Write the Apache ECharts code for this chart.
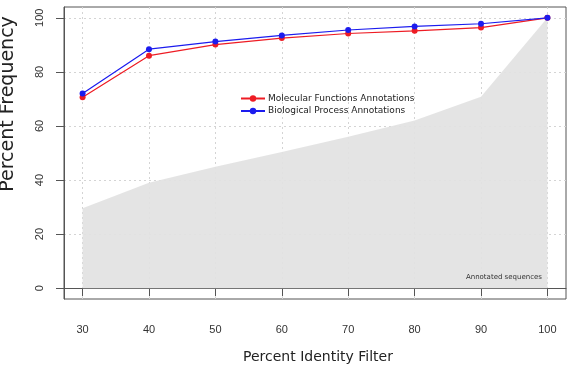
<!DOCTYPE html>
<html>
<head>
<meta charset="utf-8">
<script src="https://cdn.jsdelivr.net/npm/echarts@6/dist/echarts.min.js"></script>
<style>
  html, body { margin: 0; padding: 0; background: #fff; }
  #main { width: 570px; height: 368px; }
</style>
</head>
<body>
<div id="main"></div>
<script>
const identity = [30, 40, 50, 60, 70, 80, 90, 100];
const molecular = [70.6, 86.0, 90.1, 92.5, 94.2, 95.2, 96.4, 100];
const biological = [72.0, 88.4, 91.2, 93.5, 95.5, 96.8, 97.8, 100];
const annotated = [29.6, 39.0, 44.9, 50.4, 56.0, 62.0, 70.8, 100];
const xTicks = [30, 40, 50, 60, 70, 80, 90, 100];
const yTicks = [0, 20, 40, 60, 80, 100];

const pairs = vals => identity.map((x, i) => [x, vals[i]]);

let chartDom = document.getElementById('main');
let myChart = echarts.init(chartDom);

const axisColor = '#555';
const gridLine = { show: true, lineStyle: { color: '#d4d4d4', type: [2, 3], width: 1 } };

const option = {
  animation: false,
  grid: {
    left: 64, right: 4, top: 7, bottom: 69,
    show: true, borderColor: axisColor, borderWidth: 1, backgroundColor: 'transparent'
  },
  legend: {
    orient: 'vertical',
    left: 235, top: 89,
    itemWidth: 24, itemHeight: 8, itemGap: 3.5,
    data: ['Molecular Functions Annotations', 'Biological Process Annotations'],
    textStyle: { fontFamily: 'DejaVu Sans', fontSize: 9, color: '#222', padding: [0, 0, 0, -2] }
  },
  xAxis: {
    type: 'value', min: 27.2, max: 102.8,
    axisLine: { show: true, lineStyle: { color: axisColor } },
    axisTick: { show: true, customValues: xTicks, length: 8, lineStyle: { color: axisColor } },
    axisLabel: { customValues: xTicks, margin: 25, fontFamily: 'Liberation Sans', fontSize: 11, color: '#333' },
    splitLine: gridLine
  },
  yAxis: {
    type: 'value', min: -4, max: 104,
    axisLine: { show: true, lineStyle: { color: axisColor } },
    axisTick: { show: true, customValues: yTicks, length: 8, lineStyle: { color: axisColor } },
    axisLabel: { customValues: yTicks, rotate: 90, margin: 19, fontFamily: 'Liberation Sans', fontSize: 11, color: '#333' },
    splitLine: gridLine
  },
  graphic: [
    {
      type: 'text', x: 8, y: 104, rotation: Math.PI / 2, z: 100,
      style: { text: 'Percent Frequency', fontFamily: 'DejaVu Sans', fontSize: 19, fill: '#222', align: 'center', verticalAlign: 'middle' }
    },
    {
      type: 'text', x: 318, y: 357, z: 100,
      style: { text: 'Percent Identity Filter', fontFamily: 'DejaVu Sans', fontSize: 14, fill: '#222', align: 'center', verticalAlign: 'middle' }
    },
    {
      type: 'text', x: 542, y: 277, z: 100,
      style: { text: 'Annotated sequences', fontFamily: 'DejaVu Sans', fontSize: 7, fill: '#333', align: 'right', verticalAlign: 'middle' }
    }
  ],
  series: [
    {
      name: 'Annotated sequences',
      type: 'line',
      data: pairs(annotated),
      symbol: 'none',
      lineStyle: { width: 0 },
      areaStyle: { color: '#e2e2e2', opacity: 0.92, origin: 0 },
      silent: true
    },
    {
      name: 'Molecular Functions Annotations',
      type: 'line',
      data: pairs(molecular),
      symbol: 'circle', symbolSize: 6,
      itemStyle: { color: '#ee1c24' },
      lineStyle: { color: '#ee1c24', width: 1.2 }
    },
    {
      name: 'Biological Process Annotations',
      type: 'line',
      data: pairs(biological),
      symbol: 'circle', symbolSize: 6,
      itemStyle: { color: '#1c1cee' },
      lineStyle: { color: '#1c1cee', width: 1.2 }
    }
  ]
};

myChart.setOption(option);
</script>
</body>
</html>
